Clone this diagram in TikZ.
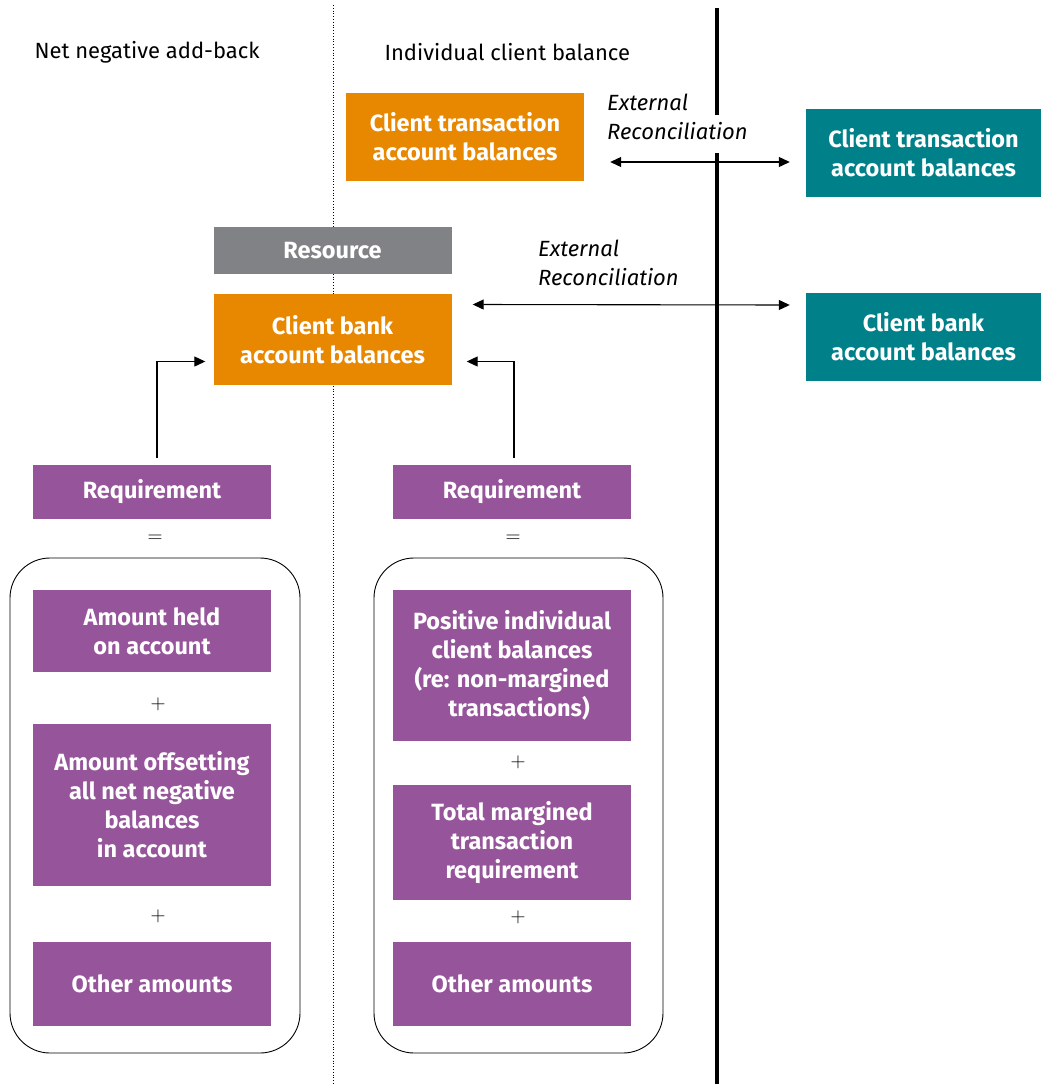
\documentclass[tikz,border=0pt]{standalone}
\usepackage{fontspec}
\setmainfont{Fira Sans}
\usetikzlibrary{arrows.meta}
\definecolor{cassorange}{RGB}{232,135,0}
\definecolor{cassteal}{RGB}{0,129,138}
\definecolor{casspurple}{RGB}{150,84,155}
\definecolor{cassgray}{RGB}{128,130,133}
\tikzset{
  box/.style={text=white, align=center, inner sep=0pt, minimum width=238pt,
    font=\bfseries\fontsize{23.5}{29}\selectfont},
  orangebox/.style={box, fill=cassorange},
  tealbox/.style={box, fill=cassteal, minimum width=235pt},
  graybox/.style={box, fill=cassgray},
  purplebox/.style={box, fill=casspurple},
  groupbox/.style={draw, rounded corners=40pt, line width=0.9pt, inner sep=0pt,
    minimum width=290pt, minimum height=495pt},
  heading/.style={font=\fontsize{22}{29}\selectfont, anchor=west},
  recon/.style={font=\itshape\fontsize{22}{29}\selectfont, align=left, anchor=north west, inner sep=0pt},
  sign/.style={font=\fontsize{21}{24}\selectfont},
  link/.style={line width=1.1pt}
}

\begin{document}
\begin{tikzpicture}[x=1pt, y=-1pt, >={Triangle[length=11pt,width=10pt]}]
\useasboundingbox (0,0) rectangle (1041,1084);
% dividers
\draw [dotted, line width=0.8pt] (333,5) -- (333,1084);
\draw [line width=4pt] (717,8) -- (717,115) (717,153) -- (717,1084);

\node [heading] (hleft) at (31,52) {Net negative add-back};
\node [heading] (hright) at (381,52) {Individual client balance};

% top row
\node [orangebox, minimum height=88pt] (ctab) at (465,137) {Client transaction\\account balances};
\node [tealbox, minimum height=88pt] (ctabx) at (923.5,153) {Client transaction\\account balances};
\node [recon] (rec1) at (607,94) {External\\Reconciliation};
\draw [link, <->] ([xshift=26pt,yshift=-25pt]ctab.east) -- ([xshift=-16pt,yshift=-9pt]ctabx.west);

% bank balances
\node [graybox, minimum height=47pt] (res) at (332.5,250.5) {Resource};
\node [orangebox, minimum height=91pt] (cbab) at (332.5,339.5) {Client bank\\account balances};
\node [tealbox, minimum height=88pt] (cbabx) at (923.5,337) {Client bank\\account balances};
\node [recon] (rec2) at (538,240) {External\\Reconciliation};
\draw [link, <->] ([xshift=21pt,yshift=35pt]cbab.east) -- ([xshift=-16pt,yshift=32pt]cbabx.west);

% requirements
\node [purplebox, minimum height=54pt] (reqL) at (152,492) {Requirement};
\node [purplebox, minimum height=54pt] (reqR) at (512,492) {Requirement};
\draw [link, ->] ([xshift=5pt,yshift=7pt]reqL.north) |- ([xshift=-8pt,yshift=-22pt]cbab.west);
\draw [link, ->] ([xshift=2pt,yshift=7pt]reqR.north) |- ([xshift=15pt,yshift=-22pt]cbab.east);
\node [sign] (eqL) at (155,539) {$=$};
\node [sign] (eqR) at (513,539) {$=$};

% left group
\node [groupbox] (grpL) at (155,805.5) {};
\node [purplebox, minimum height=82pt] (held) at (152,631) {Amount held\\on account};
\node [sign] (plL1) at (158,704) {$+$};
\node [purplebox, minimum height=162pt] (offset) at (152,805) {Amount offsetting\\all net negative\\balances\\in account};
\node [sign] (plL2) at (158,916) {$+$};
\node [purplebox, minimum height=84pt] (otherL) at (152,984) {Other amounts};

% right group
\node [groupbox, minimum width=289pt] (grpR) at (518.5,805.5) {};
\node [purplebox, minimum height=151pt] (positive) at (512,665.5) {Positive individual\\client balances\\(re: non-margined\\\hspace*{14pt}transactions)};
\node [sign] (plR1) at (518,762) {$+$};
\node [purplebox, minimum height=115pt] (margined) at (512,842.5) {Total margined\\transaction\\requirement};
\node [sign] (plR2) at (518,917) {$+$};
\node [purplebox, minimum height=84pt] (otherR) at (512,984) {Other amounts};
\end{tikzpicture}
\end{document}
